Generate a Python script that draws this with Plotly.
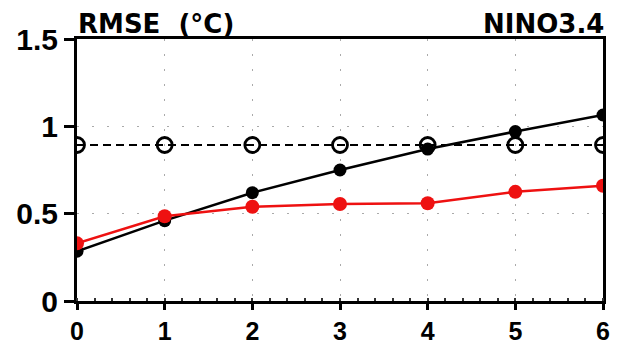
import plotly.graph_objects as go

lead = [0, 1, 2, 3, 4, 5, 6]
black_rmse = [0.285, 0.46, 0.62, 0.75, 0.87, 0.97, 1.065]
red_rmse = [0.33, 0.485, 0.54, 0.555, 0.56, 0.625, 0.66]
ref_rmse = [0.893, 0.893, 0.893, 0.893, 0.893, 0.893, 0.893]
x_ticks = [0, 1, 2, 3, 4, 5, 6]
y_ticks = [0, 0.5, 1, 1.5]
y_labels = ["0", "0.5", "1", "1.5"]

fig = go.Figure()
fig.add_trace(go.Scatter(x=lead, y=ref_rmse, mode="lines+markers",
                         line=dict(color="black", width=2.2, dash="8px,5px"),
                         marker=dict(symbol="circle-open", size=15, color="black", line=dict(width=2.8)),
                         showlegend=False))
fig.add_trace(go.Scatter(x=lead, y=black_rmse, mode="lines+markers",
                         line=dict(color="black", width=2.5),
                         marker=dict(symbol="circle", size=13, color="black"),
                         showlegend=False))
fig.add_trace(go.Scatter(x=lead, y=red_rmse, mode="lines+markers",
                         line=dict(color="#ee1111", width=2.5),
                         marker=dict(symbol="circle", size=14, color="#ee1111"),
                         showlegend=False))

yfont = dict(family="Liberation Sans, Arial", size=30, color="black", weight="bold")
xfont = dict(family="Liberation Sans, Arial", size=25, color="black", weight="bold")
hfont = dict(family="DejaVu Sans", size=26, color="black", weight="bold")
grid = dict(showgrid=True, gridcolor="#aaaaaa", griddash="2px,13px", gridwidth=1.2)
fig.update_layout(
    width=619, height=344,
    margin=dict(l=77, r=16, t=39, b=43),
    plot_bgcolor="white", paper_bgcolor="white",
    xaxis=dict(range=[0, 6], tickvals=x_ticks, ticks="outside", ticklen=6, tickwidth=2.5, tickcolor="black",
               showline=True, linewidth=3, linecolor="black", mirror=True, automargin=False,
               zeroline=False, tickfont=xfont,
               minor=dict(dtick=0.2, ticks="inside", ticklen=3, tickwidth=1.5, tickcolor="#333333", showgrid=False),
               **grid),
    yaxis=dict(range=[0, 1.5], tickvals=y_ticks, ticktext=y_labels, ticks="outside", ticklen=10, tickwidth=2.5,
               tickcolor="black",
               showline=True, linewidth=3, linecolor="black", mirror=True, automargin=False,
               zeroline=False, tickfont=yfont,
               **grid),
    annotations=[
        dict(text="RMSE  (°C)", xref="paper", yref="paper", x=0.0, y=1.0, xanchor="left", yanchor="bottom",
             showarrow=False, font=hfont, yshift=-2, xshift=-1),
        dict(text="NINO3.4", xref="paper", yref="paper", x=1.0, y=1.0, xanchor="right", yanchor="bottom",
             showarrow=False, font=hfont, yshift=-2, xshift=3),
    ],
)
fig.write_html("out.html")
